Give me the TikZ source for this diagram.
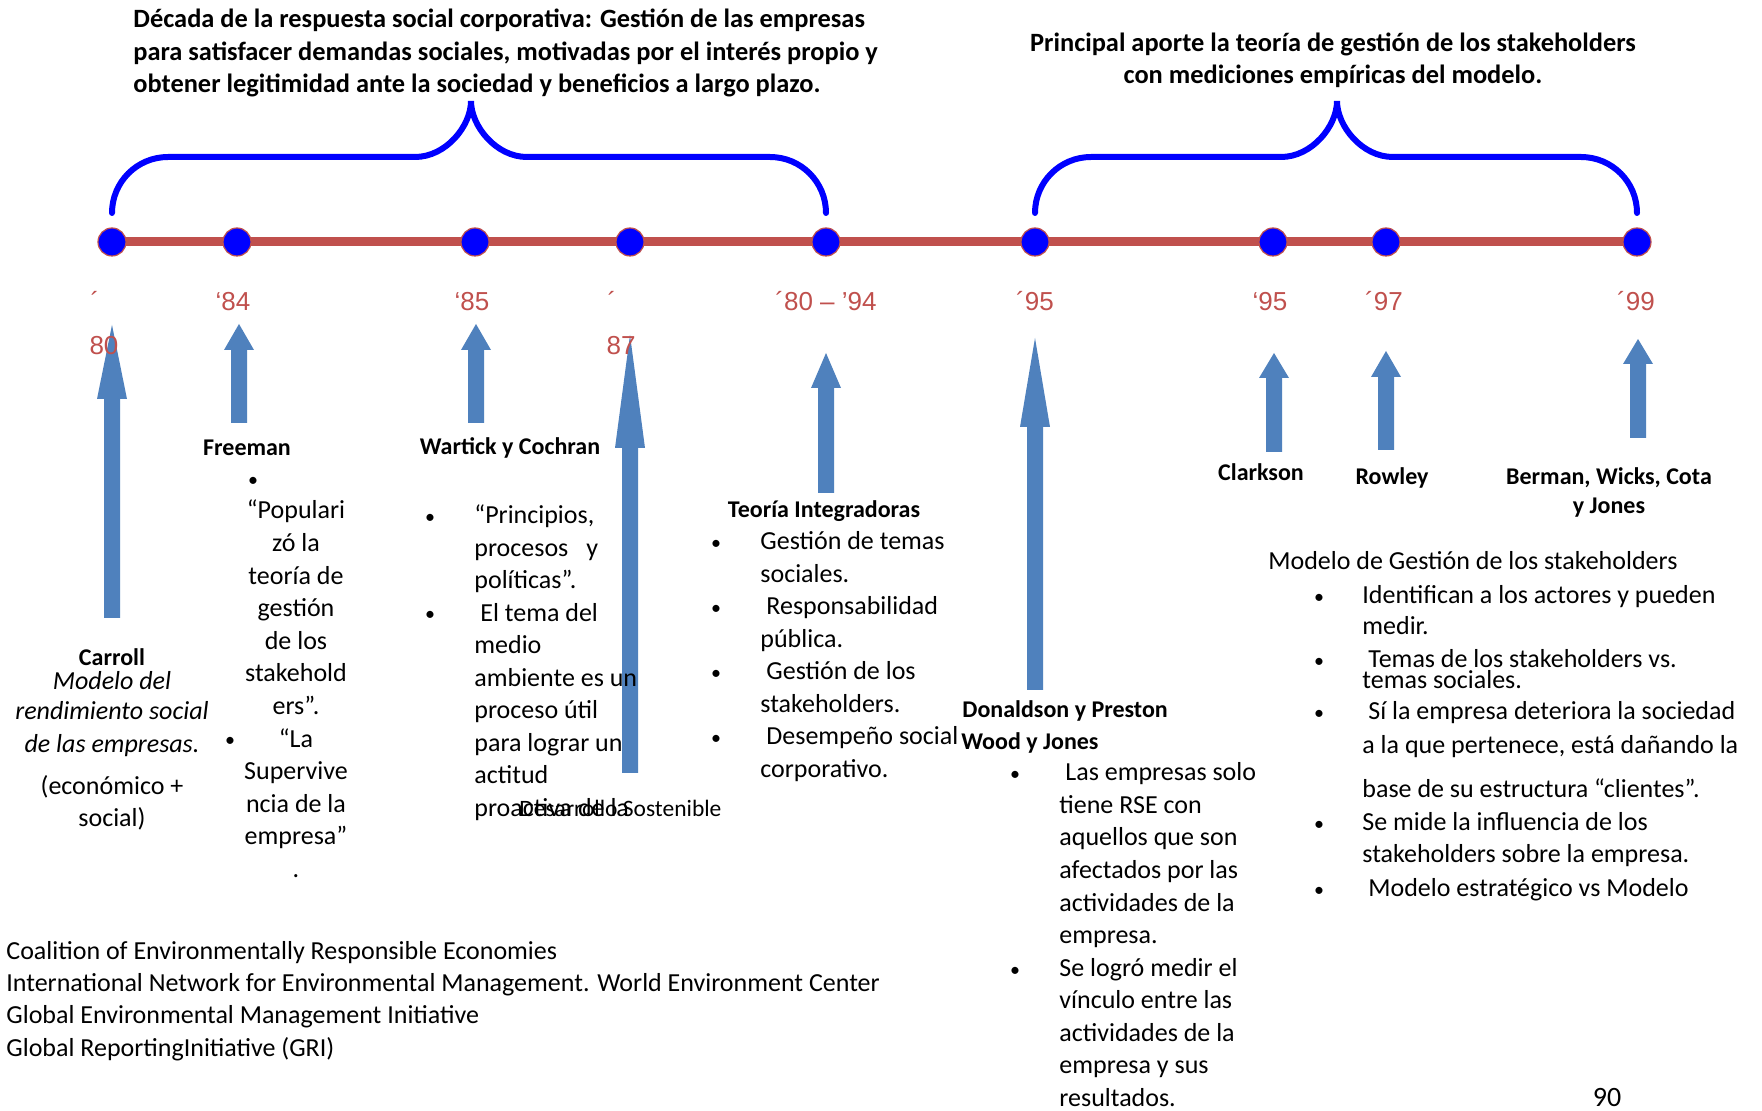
\documentclass[tikz,border=0pt]{standalone}
\usepackage{fontspec}
\setmainfont{Carlito}
\newfontfamily\yearfont{Liberation Sans}
\usetikzlibrary{backgrounds}
\definecolor{tlred}{HTML}{C0504D}
\definecolor{arrowblue}{HTML}{4F81BD}
\definecolor{dotblue}{HTML}{0000FF}
\tikzset{
  body/.style={font=\fontsize{13}{15.6}\selectfont,inner sep=0pt,anchor=base west},
  bodyc/.style={body,anchor=base},
  head/.style={font=\fontsize{13.2}{15.6}\selectfont\bfseries,inner sep=0pt,anchor=base},
  author/.style={font=\fontsize{12}{14.4}\selectfont\bfseries,inner sep=0pt,anchor=base},
  blt/.style={font=\fontsize{10}{12}\selectfont,inner sep=0pt,anchor=base},
  yr/.style={font=\yearfont\fontsize{13}{15.6}\selectfont,text=tlred,inner sep=0pt,anchor=base},
  yeardot/.style={circle,minimum size=14pt,inner sep=0pt,fill=dotblue,draw=tlred,line width=.6pt},
  timeline/.style={draw=tlred,line width=4.5pt},
  brace/.style={draw=dotblue,line width=3pt,line cap=round},
  blockarrow/.style={fill=arrowblue},
}
\begin{document}
\begin{tikzpicture}[x=0.5pt,y=-0.5pt]
  \useasboundingbox (0,0) rectangle (1762,1111);

  % braces over the two periods
  \draw[brace] (112,213) .. controls (112,182) and (137,157) .. (168,157) -- (415,157)
    .. controls (446,157) and (471,126) .. (471,101)
    .. controls (471,126) and (496,157) .. (527,157) -- (770,157)
    .. controls (801,157) and (826,182) .. (826,213);
  \draw[brace] (1035,213) .. controls (1035,182) and (1060,157) .. (1091,157) -- (1281,157)
    .. controls (1312,157) and (1337,126) .. (1337,101)
    .. controls (1337,126) and (1362,157) .. (1393,157) -- (1581,157)
    .. controls (1612,157) and (1637,182) .. (1637,213);

  % timeline
  \foreach \x [count=\i] in {112,237,475,630,826,1035,1273,1386,1637}
    \node[yeardot] (d\i) at (\x,242) {};
  \begin{scope}[on background layer]
    \fill[white] (0,0) rectangle (1762,1111);
    \draw[timeline] (d1.center) -- (d9.center);
  \end{scope}

  % up arrows
  \foreach \x/\tip/\hb/\tl in {112/325/399/618,239/324/350/423,476/324/350/423,
      630/335/448/773,826/353/388/493,1035/338/427/690,1274/353/378/452,
      1386/351/377/450,1638/339/364/438}
    \fill[blockarrow] (\x-8,\tl) -- (\x-8,\hb) -- (\x-15,\hb) -- (\x,\tip)
      -- (\x+15,\hb) -- (\x+8,\hb) -- (\x+8,\tl) -- cycle;

  % years
  \foreach \x/\y/\t [count=\i] in {95/311/´,104/355/80,233/311/‘84,472/311/‘85,
      612/311/´,621/355/87,826/311/´80 – ’94,1035/311/´95,1270/311/‘95,
      1384/311/´97,1636/311/´99}
    \node[yr] (yr\i) at (\x,\y) {\t};

  % titles
  \foreach \t [count=\i] in {Década de la respuesta social corporativa: Gestión de las empresas,
      {para satisfacer demandas sociales, motivadas por el interés propio y},
      obtener legitimidad ante la sociedad y beneficios a largo plazo.}
    \node[head,anchor=base west] (tl\i) at (133,{28+32.5*(\i-1)}) {\t};
  \node[head] (tr1) at (1333,52) {Principal aporte la teoría de gestión de los stakeholders};
  \node[head] (tr2) at (1333,84) {con mediciones empíricas del modelo.};

  % Carroll
  \node[author] (carroll) at (112,666) {Carroll};
  \node[bodyc,font=\fontsize{13}{15.6}\selectfont\itshape] (cr1) at (112,690) {Modelo del};
  \node[bodyc,font=\fontsize{13}{15.6}\selectfont\itshape] (cr2) at (112,720) {rendimiento social};
  \node[bodyc,font=\fontsize{13}{15.6}\selectfont\itshape] (cr3) at (112,753) {de las empresas.};
  \node[bodyc] (cr4) at (112,795) {(económico +};
  \node[bodyc] (cr5) at (112,827) {social)};

  % Freeman
  \node[author] (freeman) at (247,456) {Freeman};
  \node[blt] (fb1) at (253,487) {•};
  \node[blt] (fb2) at (230,747) {•};
  \foreach \t [count=\i] in {“Populari,zó la,teoría de,gestión,de los,stakehold,ers”.,
      “La,Supervive,ncia de la,empresa”,.}
    \node[bodyc] (fm\i) at (296,{519+32.6*(\i-1)}) {\t};

  % Wartick y Cochran
  \node[author] (wartick) at (510,455) {Wartick y Cochran};
  \node[blt] (wb1) at (430,524) {•};
  \node[blt] (wb2) at (430,621) {•};
  \foreach \t [count=\i] in {{“Principios,},procesos\hspace{9pt}y,políticas”.,
      \hspace{3pt}El tema del,medio,ambiente es un,proceso útil,para lograr un,
      actitud,proactiva de la}
    \node[body] (wc\i) at (474,{524+32.5*(\i-1)}) {\t};
  \node[body,font=\fontsize{11.75}{14}\selectfont] (desarrollo) at (519,817) {Desarrollo Sostenible};

  % Teoria integradoras
  \node[author] (teoria) at (824,518) {Teoría Integradoras};
  \foreach \y [count=\i] in {550,615,680,745}
    \node[blt] (tb\i) at (716,\y) {•};
  \foreach \t [count=\i] in {Gestión de temas,sociales.,\hspace{3pt}Responsabilidad,pública.,
      \hspace{3pt}Gestión de los,stakeholders.,\hspace{3pt}Desempeño social,corporativo.}
    \node[body] (ti\i) at (760,{550+32.5*(\i-1)}) {\t};

  % Donaldson y Preston / Wood y Jones
  \node[author,anchor=base west] (donaldson) at (962,718) {Donaldson y Preston};
  \node[author,anchor=base west] (wood) at (961,750) {Wood y Jones};
  \node[blt] (db1) at (1015,781) {•};
  \node[blt] (db2) at (1015,976) {•};
  \foreach \t [count=\i] in {\hspace{3pt}Las empresas solo,tiene RSE con,aquellos que son,
      afectados por las,actividades de la,empresa.,Se logró medir el,vínculo entre las,
      actividades de la,empresa y sus,resultados.}
    \node[body] (dp\i) at (1059,{781+32.5*(\i-1)}) {\t};

  % stakeholder authors
  \node[author] (clarkson) at (1261,481) {Clarkson};
  \node[author] (rowley) at (1392,485) {Rowley};
  \node[author] (berman1) at (1609,485) {Berman, Wicks, Cota};
  \node[author] (berman2) at (1609,514) {y Jones};

  % Modelo de gestion de los stakeholders
  \node[body] (mg) at (1268,570) {Modelo de Gestión de los stakeholders};
  \foreach \y [count=\i] in {604,668,720,831,896}
    \node[blt] (mb\i) at (1319,\y) {•};
  \foreach \y/\t [count=\i] in {604/Identifican a los actores y pueden,635/medir.,
      668/\hspace{3pt}Temas de los stakeholders vs.,689/temas sociales.,
      720/\hspace{3pt}Sí la empresa deteriora la sociedad,
      754/{a la que pertenece, está dañando la},798/base de su estructura “clientes”.,
      831/Se mide la influencia de los,863/stakeholders sobre la empresa.,
      896/\hspace{3pt}Modelo estratégico vs Modelo}
    \node[body] (ms\i) at (1362,\y) {\t};

  % organisations
  \foreach \t [count=\i] in {Coalition of Environmentally Responsible Economies,
      International Network for Environmental Management. World Environment Center,
      Global Environmental Management Initiative,Global ReportingInitiative (GRI)}
    \node[body] (org\i) at (6,{959+32.4*(\i-1)}) {\t};

  \node[bodyc,font=\fontsize{14}{16}\selectfont] (page) at (1607,1106) {90};
\end{tikzpicture}
\end{document}
